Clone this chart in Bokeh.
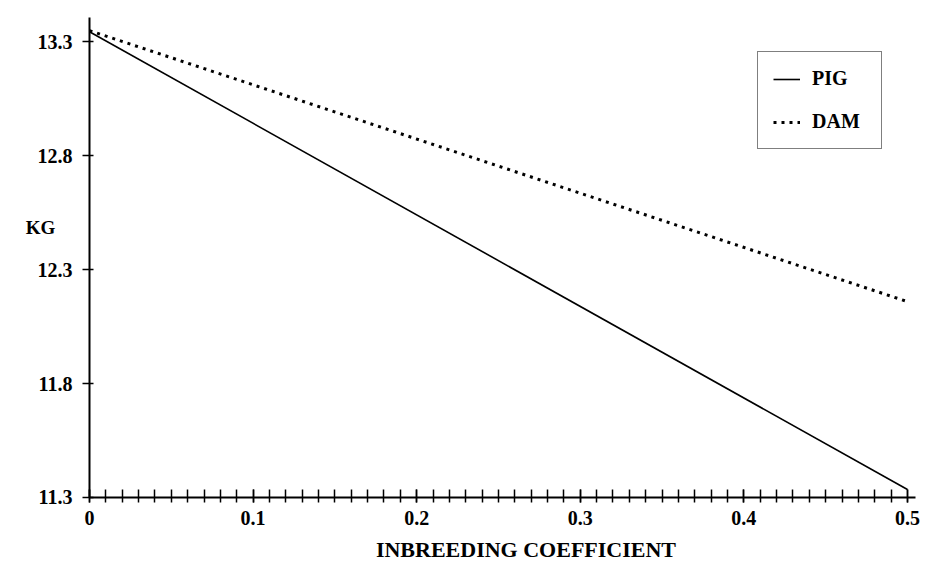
from bokeh.plotting import figure
from bokeh.models import Range1d, FixedTicker, Label, Legend, LegendItem, LinearAxis
from bokeh.embed import file_html
from bokeh.resources import INLINE

# data
x_vals = [0.0, 0.5]
pig = [13.345, 11.335]
dam = [13.35, 12.16]

x_ticks = [0.0, 0.1, 0.2, 0.3, 0.4, 0.5]
x_tick_labels = ["0", "0.1", "0.2", "0.3", "0.4", "0.5"]
y_ticks = [11.3, 11.8, 12.3, 12.8, 13.3]
y_tick_labels = ["11.3", "11.8", "12.3", "12.8", "13.3"]
x_minor = [round(i * 0.01, 2) for i in range(51)]
x_title = "INBREEDING COEFFICIENT"
y_title = "KG"

FONT = "Liberation Serif"

p = figure(width=931, height=563, output_backend="svg", toolbar_location=None,
           x_range=Range1d(-0.0544, 0.5147), y_range=Range1d(11.0102, 13.4822),
           x_axis_type=None, y_axis_type=None)
p.min_border = 0
p.min_border_left = 0
p.min_border_right = 0
p.min_border_top = 0
p.min_border_bottom = 0
p.title.text = ""
p.outline_line_color = None
p.background_fill_color = "white"
p.border_fill_color = "white"

r_pig = p.line(x_vals, pig, line_color="black", line_width=1.6)
r_dam = p.line(x_vals, dam, line_color="black", line_width=3, line_dash="3 5")

xa = LinearAxis(fixed_location=11.3, bounds=(0, 0.5049))
xa.ticker = FixedTicker(ticks=x_ticks, minor_ticks=x_minor)
xa.major_label_overrides = dict(zip(x_ticks, x_tick_labels))
xa.axis_line_width = 2
xa.axis_line_color = "black"
xa.major_tick_in = 8
xa.major_tick_out = 5
xa.minor_tick_in = 8
xa.minor_tick_out = 5
xa.major_tick_line_width = 1.5
xa.minor_tick_line_width = 1.5
xa.major_tick_line_color = "black"
xa.minor_tick_line_color = "black"
xa.major_label_standoff = 9
xa.major_label_text_font = FONT
xa.major_label_text_font_style = "bold"
xa.major_label_text_font_size = "20px"
xa.major_label_text_color = "black"
p.add_layout(xa, "below")

ya = LinearAxis(fixed_location=0, bounds=(11.3, 13.408))
ya.ticker = FixedTicker(ticks=y_ticks, minor_ticks=[])
ya.major_label_overrides = dict(zip(y_ticks, y_tick_labels))
ya.axis_line_width = 2
ya.axis_line_color = "black"
ya.major_tick_in = 4
ya.major_tick_out = 7
ya.minor_tick_in = 0
ya.minor_tick_out = 0
ya.major_tick_line_width = 1.5
ya.major_tick_line_color = "black"
ya.major_label_standoff = 10
ya.major_label_text_font = FONT
ya.major_label_text_font_style = "bold"
ya.major_label_text_font_size = "20px"
ya.major_label_text_color = "black"
p.add_layout(ya, "left")

kg = Label(x=-0.02995, y=12.4855, text=y_title, text_align="center", text_baseline="middle",
           text_font=FONT, text_font_style="bold", text_font_size="19px", text_color="black")
p.add_layout(kg)
xt = Label(x=0.2668, y=11.0717, text=x_title, text_align="center", text_baseline="middle",
           text_font=FONT, text_font_style="bold", text_font_size="22px", text_color="black")
p.add_layout(xt)

legend = Legend(items=[LegendItem(label="PIG", renderers=[r_pig]),
                       LegendItem(label="DAM", renderers=[r_dam])],
                location=(757, 414))
legend.border_line_color = "black"
legend.border_line_width = 1.6
legend.background_fill_color = "white"
legend.background_fill_alpha = 1
legend.padding = 15
legend.spacing = 20
legend.margin = 0
legend.glyph_width = 27
legend.glyph_height = 20
legend.label_height = 20
legend.label_width = 54
legend.label_standoff = 12
legend.label_text_font = FONT
legend.label_text_font_style = "bold"
legend.label_text_font_size = "20px"
legend.label_text_color = "black"
p.add_layout(legend, "center")

open("out.html", "w").write(file_html(p, INLINE))
